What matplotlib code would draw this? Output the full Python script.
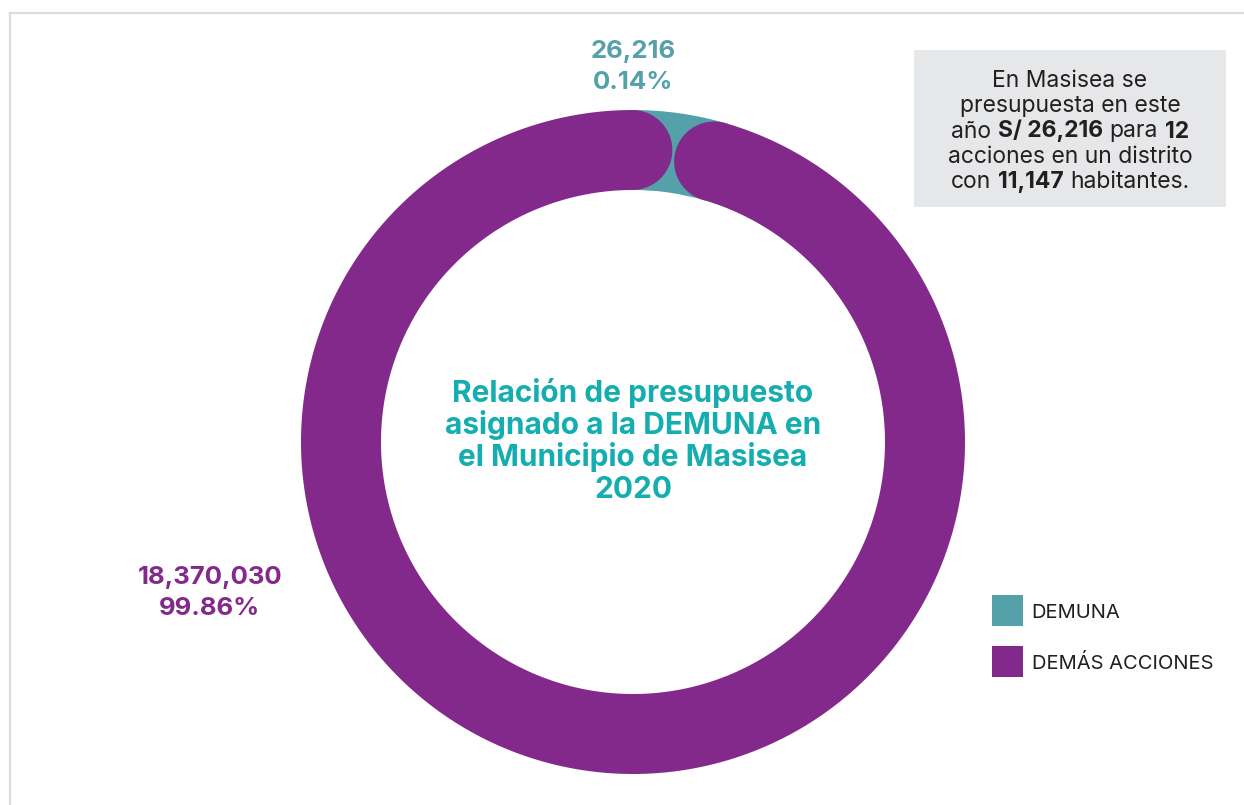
import matplotlib
matplotlib.use("Agg")
import matplotlib.pyplot as plt
import numpy as np
from matplotlib.patches import Wedge, Rectangle, PathPatch
from matplotlib.path import Path
from matplotlib.lines import Line2D

# ---------------- data ----------------
categories = ["DEMUNA", "DEMÁS ACCIONES"]
values = [26216, 18370030]
value_labels = ["26,216", "18,370,030"]
percent_labels = ["0.14%", "99.86%"]
n_acciones = "12"
habitantes = "11,147"
title_lines = ["Relación de presupuesto", "asignado a la DEMUNA en",
               "el Municipio de Masisea", "2020"]

# ---------------- style ----------------
TEAL = "#54A1AA"
PURPLE = "#84298C"
TITLE_C = "#14ADB0"
DARK = "#231F20"
BOX_C = "#E6E7E8"
BORDER_C = "#DDDDDD"
FONT = "Inter"

W, H = 1244, 805
fig = plt.figure(figsize=(W / 100, H / 100), dpi=100)
ax = fig.add_axes([0, 0, 1, 1])


def Y(y):
    return H - y


cx, cy = 633, Y(442)
R, ring = 332, 80
f0 = values[0] / sum(values)
gap_center = 82.0

wedges, _ = ax.pie(values, colors=[TEAL, PURPLE], radius=R, center=(cx, cy),
                   startangle=gap_center + 180 * f0, counterclock=False,
                   wedgeprops=dict(width=ring, linewidth=0))
ax.set_xlim(0, W)
ax.set_ylim(0, H)
ax.set_aspect("auto")
ax.axis("off")

# teal slice (shown with a minimum visual width behind the rounded ends)
tw = wedges[0]
mid = (tw.theta1 + tw.theta2) / 2
tw.set_visible(False)
ax.add_patch(Wedge((cx, cy), R, mid - 8.6, mid + 8.6, width=ring,
                   facecolor=TEAL, linewidth=0, zorder=1))

# purple slice with rounded ends
pw = wedges[1]
pw.set_visible(False)
t1, t2 = pw.theta1, pw.theta2
rm = R - ring / 2
c = ring / 2
delta = np.degrees(np.arcsin(c / rm))
ta, tb = np.radians(t1 + delta), np.radians(t2 - delta)
pts = []
for a in np.linspace(ta, tb, 1500):
    pts.append((cx + R * np.cos(a), cy + R * np.sin(a)))
ub = np.array([np.cos(tb), np.sin(tb)])
tbv = np.array([-np.sin(tb), np.cos(tb)])
Cb = np.array([cx, cy]) + rm * ub
for p in np.linspace(0, np.pi, 60):
    pts.append(tuple(Cb + c * (np.cos(p) * ub + np.sin(p) * tbv)))
for a in np.linspace(tb, ta, 1500):
    pts.append((cx + (R - ring) * np.cos(a), cy + (R - ring) * np.sin(a)))
ua = np.array([np.cos(ta), np.sin(ta)])
tav = np.array([-np.sin(ta), np.cos(ta)])
Ca = np.array([cx, cy]) + rm * ua
for p in np.linspace(np.pi, 0, 60):
    pts.append(tuple(Ca + c * (np.cos(p) * ua - np.sin(p) * tav)))
pts.append(pts[0])
ax.add_patch(PathPatch(Path(pts, closed=True), facecolor=PURPLE,
                       linewidth=0, zorder=2))

# frame lines
ax.add_line(Line2D([10, W], [Y(13), Y(13)], color=BORDER_C, lw=1.6))
ax.add_line(Line2D([10, 10], [Y(13), 0], color=BORDER_C, lw=1.6))

# slice labels
LBL = 18.5
ax.text(633, Y(58), value_labels[0], ha="center", va="baseline",
        fontsize=LBL, fontweight="bold", color=TEAL, family=FONT)
ax.text(633, Y(89), percent_labels[0], ha="center", va="baseline",
        fontsize=LBL, fontweight="bold", color=TEAL, family=FONT)
ax.text(210, Y(584), value_labels[1], ha="center", va="baseline",
        fontsize=LBL, fontweight="bold", color=PURPLE, family=FONT)
ax.text(210, Y(615), percent_labels[1], ha="center", va="baseline",
        fontsize=LBL, fontweight="bold", color=PURPLE, family=FONT)

# centre title
for line, yb in zip(title_lines, [401.5, 433.8, 466.1, 498.4]):
    ax.text(633, Y(yb), line, ha="center", va="baseline", fontsize=21.5,
            fontweight="bold", color=TITLE_C, family=FONT)

# info box
ax.add_patch(Rectangle((914, Y(206.7)), 312, 156.7, facecolor=BOX_C,
                       linewidth=0, zorder=0))
renderer = fig.canvas.get_renderer()


def text_w(s, weight, size):
    t = ax.text(0, 0, s, fontsize=size, fontweight=weight, family=FONT)
    w = t.get_window_extent(renderer).width
    t.remove()
    return w


def rich_line(segments, xc, yb, size, color):
    items = []
    total = 0.0
    for s, bold in segments:
        wt = "bold" if bold else "normal"
        sp = text_w("x x", wt, size) - text_w("xx", wt, size)
        core = s.strip()
        lead = len(s) - len(s.lstrip())
        trail = len(s) - len(s.rstrip())
        cw = text_w(core, wt, size)
        total += lead * sp
        items.append((core, wt, total))
        total += cw + trail * sp
    x0 = xc - total / 2
    for core, wt, off in items:
        ax.text(x0 + off, yb, core, fontsize=size, fontweight=wt,
                family=FONT, color=color, ha="left", va="baseline")


box_lines = [
    [("En Masisea se", False)],
    [("presupuesta en este", False)],
    [("año ", False), ("S/ " + value_labels[0], True), (" para ", False),
     (n_acciones, True)],
    [("acciones en un distrito", False)],
    [("con ", False), (habitantes, True), (" habitantes.", False)],
]
for segs, yb in zip(box_lines, [86.7, 112.1, 137.5, 162.9, 188.3]):
    rich_line(segs, 1070, Y(yb), 16.5, DARK)

# legend
for col, name, ytop, yb in [(TEAL, categories[0], 595, 618.3),
                             (PURPLE, categories[1], 645.7, 669.3)]:
    ax.add_patch(Rectangle((992, Y(ytop + 31)), 31, 31, facecolor=col,
                           linewidth=0))
    ax.text(1031.5, Y(yb), name, ha="left", va="baseline", fontsize=14.5,
            color=DARK, family=FONT)

fig.savefig("out.png", dpi=100)
